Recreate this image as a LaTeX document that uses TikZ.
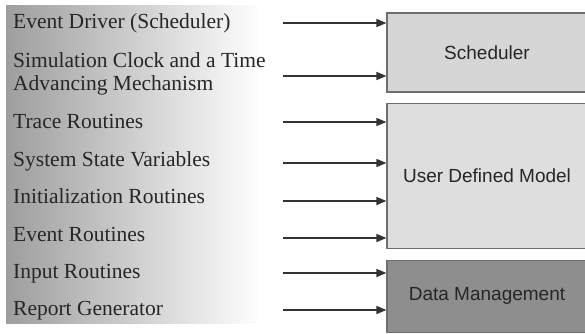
\documentclass[tikz,border=0pt]{standalone}
\usepackage{fontspec}
\setmainfont{Liberation Serif}
\newfontfamily\labelfont{Liberation Sans}
\usepackage{xcolor}
\usetikzlibrary{arrows.meta,positioning}

\definecolor{schedfill}{HTML}{D6D6D6}
\definecolor{modelfill}{HTML}{DEDEDE}
\definecolor{datafill}{HTML}{8E8E8E}
\definecolor{edgegray}{HTML}{6E6E6E}

\begin{document}
\begin{tikzpicture}[x=1pt, y=-1pt,
    item/.style={anchor=base west, inner sep=0pt, align=left, font=\fontsize{21.5}{23}\selectfont, text=black!85},
    part/.style={rectangle, draw=edgegray, line width=1.2pt, minimum width=200pt, font=\labelfont\fontsize{19}{21}\selectfont, text=black!85},
    arrow/.style={-{Triangle[length=10pt,width=8pt]}, line width=1.5pt, draw=black!80}
]
\useasboundingbox (0,0) rectangle (585,333);

% shaded panel behind the list
\fill[left color=black!38, right color=white] (6,5) rectangle (262,323);

% list of components (base of a two-line item is its last line)
\node[item] (driver) at (13,28) {Event Driver (Scheduler)};
\node[item] (clock) at (13,90) {Simulation Clock and a Time\\Advancing Mechanism};
\node[item] (trace) at (13,128) {Trace Routines};
\node[item] (state) at (13,166) {System State Variables};
\node[item] (init) at (13,203) {Initialization Routines};
\node[item] (events) at (13,241) {Event Routines};
\node[item] (input) at (13,278) {Input Routines};
\node[item] (report) at (13,315) {Report Generator};

% blocks on the right
\node[part, fill=schedfill, minimum height=79pt] (sched) at (487,52.5) {Scheduler};
\node[part, fill=modelfill, minimum height=145pt, below=10pt of sched] (model) {User Defined Model};
\node[part, fill=datafill, minimum height=72pt, below=11pt of model] (data) {Data Management};

% arrow tails
\coordinate (a1) at (283,23);
\coordinate (a2) at (283,76);
\coordinate (a3) at (283,122);
\coordinate (a4) at (283,163);
\coordinate (a5) at (283,201);
\coordinate (a6) at (283,238);
\coordinate (a7) at (283,273);
\coordinate (a8) at (283,310);

\draw[arrow] (a1) -- (a1 -| sched.west);
\draw[arrow] (a2) -- (a2 -| sched.west);
\draw[arrow] (a3) -- (a3 -| model.west);
\draw[arrow] (a4) -- (a4 -| model.west);
\draw[arrow] (a5) -- (a5 -| model.west);
\draw[arrow] (a6) -- (a6 -| model.west);
\draw[arrow] (a7) -- (a7 -| data.west);
\draw[arrow] (a8) -- (a8 -| data.west);

\end{tikzpicture}
\end{document}
